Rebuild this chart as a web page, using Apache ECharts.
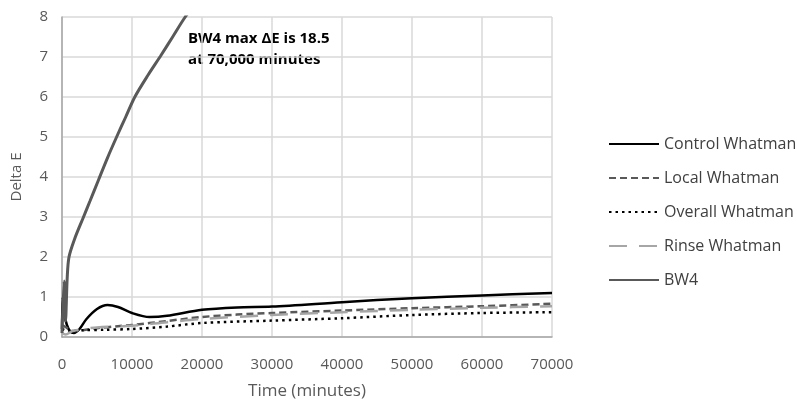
<!DOCTYPE html>
<html><head><meta charset="utf-8">
<script src="https://cdn.jsdelivr.net/npm/echarts@6/dist/echarts.min.js"></script>
<style>html,body{margin:0;padding:0;background:#fff}#c{width:797px;height:400px}</style>
</head><body><div id="c"></div>
<script>
const seriesNames = ['Control Whatman','Local Whatman','Overall Whatman','Rinse Whatman','BW4'];
const xTicks = [0,10000,20000,30000,40000,50000,60000,70000];
const yTicks = [0,1,2,3,4,5,6,7,8];
const controlData = [[0,0.2],[100,1.0],[300,0.6],[700,0.3],[1200,0.13],[1700,0.1],[2500,0.2],[3500,0.45],[5000,0.7],[6500,0.8],[8000,0.75],[10000,0.6],[12500,0.5],[15000,0.53],[20000,0.68],[25000,0.74],[30000,0.76],[40000,0.87],[50000,0.97],[60000,1.04],[70000,1.1]];
const localData = [[0,0.3],[500,0.25],[1500,0.15],[3000,0.17],[5000,0.22],[8000,0.27],[10000,0.3],[15000,0.4],[20000,0.5],[25000,0.56],[30000,0.6],[40000,0.66],[50000,0.72],[60000,0.77],[70000,0.83]];
const overallData = [[0,0.2],[1000,0.15],[3000,0.17],[6000,0.18],[10000,0.2],[15000,0.26],[20000,0.35],[30000,0.41],[40000,0.47],[50000,0.55],[60000,0.6],[70000,0.62]];
const rinseData = [[0,0.1],[500,0.06],[1500,0.15],[3000,0.2],[5000,0.24],[10000,0.28],[15000,0.37],[20000,0.45],[30000,0.55],[40000,0.62],[50000,0.68],[60000,0.73],[70000,0.77]];
const bw4Data = [[0,0.1],[300,1.4],[500,0.4],[750,1.5],[1000,2.0],[1800,2.45],[3000,2.97],[4000,3.4],[5200,3.92],[6500,4.48],[7800,5.0],[9100,5.5],[10400,6.0],[12300,6.55],[14100,7.03],[15800,7.5],[17600,8.0],[25000,9.8],[40000,13.0],[55000,15.9],[70000,18.5]];
const annotation = ['BW4 max ΔE is 18.5','at 70,000 minutes'];

const font = 'Open Sans';
const chart = echarts.init(document.getElementById('c'));
function mk(name, data, color, width, type, smooth){
  return {name, type:'line', data, symbol:'none', smooth, clip:true,
    lineStyle:{color, width, type}, itemStyle:{color}};
}
chart.setOption({
  animation:false,
  grid:{left:62,right:245,top:17,bottom:63,outerBoundsMode:'none',containLabel:false},
  xAxis:{type:'value',min:0,max:70000,interval:10000,
    name:'Time (minutes)',nameLocation:'middle',nameGap:46,
    nameTextStyle:{fontFamily:font,fontSize:17,color:'#595959'},
    axisLine:{show:true,lineStyle:{color:'#a6a6a6',width:1.5}},
    axisTick:{show:false},
    axisLabel:{fontFamily:font,fontSize:15,color:'#595959',margin:20,formatter:v=>String(v)},
    splitLine:{show:true,lineStyle:{color:'#d9d9d9',width:1.5}}},
  yAxis:{type:'value',min:0,max:8,interval:1,
    name:'Delta E',nameLocation:'middle',nameGap:38,nameRotate:90,
    nameTextStyle:{fontFamily:font,fontSize:15,color:'#595959'},
    axisLine:{show:true,lineStyle:{color:'#a6a6a6',width:1.5}},
    axisTick:{show:false},
    axisLabel:{fontFamily:font,fontSize:15,color:'#595959',margin:14},
    splitLine:{show:true,lineStyle:{color:'#d9d9d9',width:1.5}}},
  legend:{orient:'vertical',left:608,top:136,padding:0,itemWidth:50,itemHeight:14,itemGap:18,
    itemStyle:{opacity:0},
    textStyle:{fontFamily:font,fontSize:16,color:'#404040'},
    data:seriesNames},
  graphic:[{type:'text',left:188,top:28,style:{text:annotation.join('\n'),font:'bold 15px "Open Sans"',fill:'#000',lineHeight:21}}],
  series:[
    mk(seriesNames[0],controlData,'#000000',2.5,'solid',0.3),
    mk(seriesNames[1],localData,'#595959',2.5,[7,4],0.3),
    mk(seriesNames[2],overallData,'#000000',2.5,[2.5,4],0.3),
    mk(seriesNames[3],rinseData,'#a6a6a6',2.5,[18,12],0.3),
    mk(seriesNames[4],bw4Data,'#595959',3,'solid',0.3)
  ]
});
</script></body></html>
